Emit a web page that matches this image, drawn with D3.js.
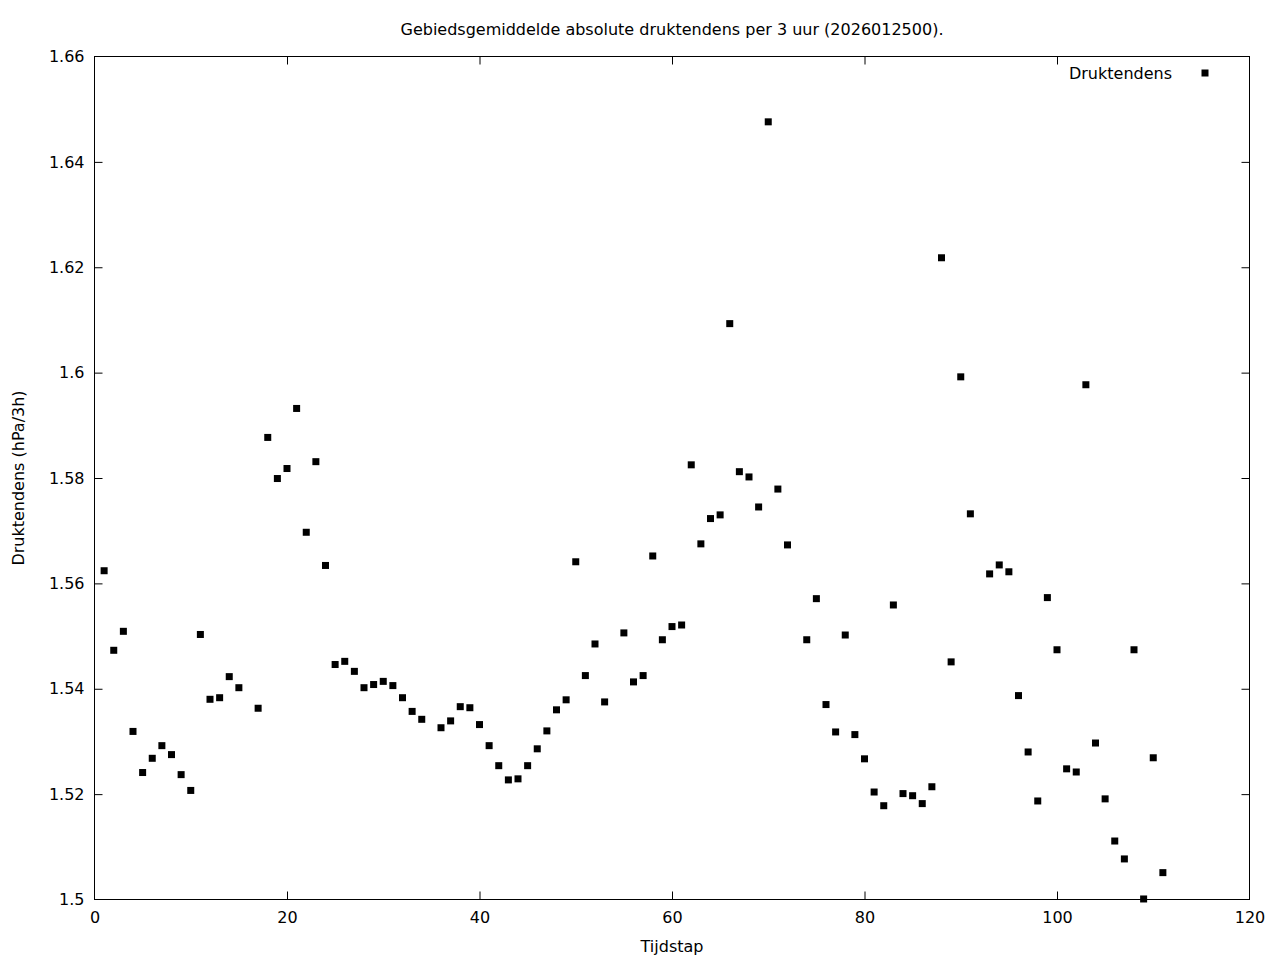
<!DOCTYPE html>
<html>
<head>
<meta charset="utf-8">
<script src="https://cdn.jsdelivr.net/npm/d3@7"></script>
<style>
  html, body { margin: 0; padding: 0; background: #fff; }
  svg { display: block; }
  text { font-family: "DejaVu Sans", sans-serif; fill: #000; }
</style>
</head>
<body>
<svg id="chart" width="1280" height="960"></svg>
<script>
// ---- Data ----
const title = "Gebiedsgemiddelde absolute druktendens per 3 uur (2026012500).";
const xLabel = "Tijdstap";
const yLabel = "Druktendens (hPa/3h)";
const seriesName = "Druktendens";

const steps = [
  1,2,3,4,5,6,7,8,9,10,11,12,13,14,15,17,18,19,20,21,22,23,24,25,26,27,28,29,30,31,32,33,34,
  36,37,38,39,40,41,42,43,44,45,46,47,48,49,50,51,52,53,55,56,57,58,59,60,61,62,63,64,65,66,67,68,69,70,71,72,
  74,75,76,77,78,79,80,81,82,83,84,85,86,87,88,89,90,91,93,94,95,96,97,98,99,100,101,102,103,104,105,106,107,108,109,110,111
];
const values = [
  1.5624,1.5473,1.5509,1.5319,1.5241,1.5268,1.5292,1.5275,1.5237,1.5207,1.5503,1.5380,1.5383,1.5423,1.5402,1.5363,1.5877,1.5799,1.5818,1.5932,1.5697,1.5831,1.5634,1.5446,1.5452,1.5433,1.5402,1.5408,1.5414,1.5406,1.5383,1.5357,1.5342,
  1.5326,1.5339,1.5366,1.5364,1.5332,1.5292,1.5254,1.5227,1.5229,1.5254,1.5286,1.5320,1.5360,1.5379,1.5641,1.5425,1.5485,1.5375,1.5506,1.5413,1.5425,1.5652,1.5493,1.5518,1.5521,1.5825,1.5675,1.5723,1.5730,1.6093,1.5812,1.5802,1.5745,1.6476,1.5779,1.5673,
  1.5493,1.5571,1.5370,1.5318,1.5502,1.5313,1.5267,1.5204,1.5178,1.5559,1.5201,1.5197,1.5182,1.5214,1.6218,1.5451,1.5992,1.5732,1.5618,1.5635,1.5622,1.5387,1.5280,1.5187,1.5573,1.5474,1.5248,1.5242,1.5977,1.5297,1.5191,1.5111,1.5077,1.5474,1.5001,1.5269,1.5051
];
const xTicks = [0, 20, 40, 60, 80, 100, 120];
const yTicks = [1.5, 1.52, 1.54, 1.56, 1.58, 1.6, 1.62, 1.64, 1.66];

// ---- Layout ----
const svg = d3.select("#chart");
const L = 94.5, R = 1249.5, T = 56.5, B = 899.5;
const x = d3.scaleLinear().domain([0, 120]).range([L, R]);
const y = d3.scaleLinear().domain([1.5, 1.66]).range([B, T]);
const tickLen = 8;
const fs = 16;

// Border
svg.append("rect").attr("x", L).attr("y", T).attr("width", R - L).attr("height", B - T)
  .attr("fill", "none").attr("stroke", "#000").attr("stroke-width", 1);

// Axes via d3 (inner ticks, mirrored)
const fmtY = d => String(+d.toFixed(2));
const gB = svg.append("g").attr("transform", `translate(0,${B})`)
  .call(d3.axisBottom(x).tickValues(xTicks).tickSize(-tickLen).tickPadding(12).tickFormat(d3.format("d")));
const gT = svg.append("g").attr("transform", `translate(0,${T})`)
  .call(d3.axisTop(x).tickValues(xTicks).tickSize(-tickLen).tickFormat(""));
const gL = svg.append("g").attr("transform", `translate(${L},0)`)
  .call(d3.axisLeft(y).tickValues(yTicks).tickSize(-tickLen).tickPadding(10).tickFormat(fmtY));
const gR = svg.append("g").attr("transform", `translate(${R},0)`)
  .call(d3.axisRight(y).tickValues(yTicks).tickSize(-tickLen).tickFormat(""));
[gB, gT, gL, gR].forEach(g => {
  g.select(".domain").remove();
  g.selectAll("line").attr("stroke", "#000").attr("stroke-width", 1);
  g.selectAll("text").attr("font-family", "DejaVu Sans, sans-serif").attr("font-size", fs).attr("fill", "#000");
});
gT.selectAll(".tick").filter(d => d === 0 || d === 120).remove();
gB.selectAll(".tick line").filter(d => d === 0 || d === 120).remove();
gL.selectAll(".tick line").filter(d => d === 1.5 || d === 1.66).remove();
gR.selectAll(".tick").filter(d => d === 1.5 || d === 1.66).remove();

// Title & labels
svg.append("text").attr("x", (L + R) / 2).attr("y", 35).attr("text-anchor", "middle")
  .attr("font-size", fs).text(title);
svg.append("text").attr("x", (L + R) / 2).attr("y", 952).attr("text-anchor", "middle")
  .attr("font-size", fs).text(xLabel);
svg.append("text").attr("transform", `translate(24,${(T + B) / 2}) rotate(-90)`)
  .attr("text-anchor", "middle").attr("font-size", fs).text(yLabel);

// Points
const ms = 7;
svg.append("g").selectAll("rect").data(steps.map((s, i) => [s, values[i]])).join("rect")
  .attr("x", d => x(d[0]) - ms / 2).attr("y", d => y(d[1]) - ms / 2)
  .attr("width", ms).attr("height", ms).attr("fill", "#000");

// Legend
svg.append("text").attr("x", 1172).attr("y", 79).attr("text-anchor", "end")
  .attr("font-size", fs).text(seriesName);
svg.append("rect").attr("x", 1205 - ms / 2).attr("y", 73 - ms / 2).attr("width", ms).attr("height", ms).attr("fill", "#000");
</script>
</body>
</html>
